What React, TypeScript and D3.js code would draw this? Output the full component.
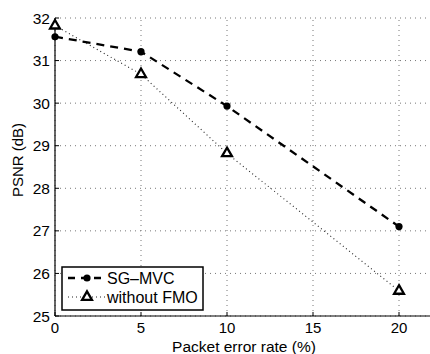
import React, { useEffect, useRef } from 'react';
import * as d3 from 'd3';

const errorRates = [0, 5, 10, 20];
const sgMvc = [31.56, 31.21, 29.93, 27.1];
const withoutFmo = [31.82, 30.68, 28.82, 25.59];
const xTicks = [0, 5, 10, 15, 20];
const yTicks = [25, 26, 27, 28, 29, 30, 31, 32];

const App = () => {
  const ref = useRef<SVGSVGElement>(null);

  useEffect(() => {
    const width = 430;
    const height = 354;
    const svg = d3.select(ref.current).attr('width', width).attr('height', height);
    svg.selectAll('*').remove();

    const font = 'Liberation Sans, Arial, Helvetica, sans-serif';
    const left = 55;
    const x = d3.scaleLinear().domain([0, 20]).range([left, 399]);
    const y = d3.scaleLinear().domain([25, 32]).range([316, 18]);

    // grid
    const grid = svg.append('g');
    xTicks.forEach(t => {
      grid.append('line')
        .attr('x1', x(t)).attr('x2', x(t))
        .attr('y1', y(25)).attr('y2', y(32))
        .attr('stroke', '#777').attr('stroke-width', 1)
        .attr('stroke-dasharray', '1,4');
    });
    yTicks.forEach(t => {
      grid.append('line')
        .attr('x1', left).attr('x2', width)
        .attr('y1', y(t)).attr('y2', y(t))
        .attr('stroke', '#777').attr('stroke-width', 1)
        .attr('stroke-dasharray', '1,4');
    });

    // axes
    svg.append('line')
      .attr('x1', left).attr('x2', width)
      .attr('y1', y(25)).attr('y2', y(25))
      .attr('stroke', '#000').attr('stroke-width', 1.2);
    svg.append('line')
      .attr('x1', left).attr('x2', left)
      .attr('y1', y(25)).attr('y2', y(32))
      .attr('stroke', '#000').attr('stroke-width', 1.2);

    xTicks.forEach(t => {
      svg.append('line')
        .attr('x1', x(t)).attr('x2', x(t))
        .attr('y1', y(25)).attr('y2', y(25) - 4)
        .attr('stroke', '#000');
      svg.append('text')
        .attr('x', x(t)).attr('y', 333)
        .attr('text-anchor', 'middle')
        .attr('font-family', font).attr('font-size', 15)
        .text(t);
    });
    yTicks.forEach(t => {
      svg.append('line')
        .attr('x1', left).attr('x2', left + 4)
        .attr('y1', y(t)).attr('y2', y(t))
        .attr('stroke', '#000');
      svg.append('text')
        .attr('x', 50).attr('y', y(t) + 5.5)
        .attr('text-anchor', 'end')
        .attr('font-family', font).attr('font-size', 15.5)
        .text(t);
    });

    svg.append('text')
      .attr('x', 244).attr('y', 352)
      .attr('text-anchor', 'middle')
      .attr('font-family', font).attr('font-size', 15.5)
      .text('Packet error rate (%)');
    svg.append('text')
      .attr('transform', `translate(23,160) rotate(-90)`)
      .attr('text-anchor', 'middle')
      .attr('font-family', font).attr('font-size', 15)
      .text('PSNR (dB)');

    const line = d3.line<number>()
      .x((_, i) => x(errorRates[i]))
      .y(d => y(d));

    // without FMO (dotted, triangles)
    svg.append('path')
      .attr('d', line(withoutFmo))
      .attr('fill', 'none')
      .attr('stroke', '#222')
      .attr('stroke-width', 1.1)
      .attr('stroke-dasharray', '1,3');

    // SG-MVC (dashed, dots)
    svg.append('path')
      .attr('d', line(sgMvc))
      .attr('fill', 'none')
      .attr('stroke', '#000')
      .attr('stroke-width', 2.3)
      .attr('stroke-dasharray', '8,6');

    const tri = d3.symbol().type(d3.symbolTriangle).size(42);
    withoutFmo.forEach((v, i) => {
      svg.append('path')
        .attr('d', tri())
        .attr('transform', `translate(${x(errorRates[i])},${y(v)})`)
        .attr('fill', 'white')
        .attr('stroke', '#000')
        .attr('stroke-width', 2.3);
    });
    sgMvc.forEach((v, i) => {
      svg.append('circle')
        .attr('cx', x(errorRates[i])).attr('cy', y(v))
        .attr('r', 3.6)
        .attr('fill', '#000');
    });

    // legend
    const legend = svg.append('g');
    legend.append('rect')
      .attr('x', 62).attr('y', 267)
      .attr('width', 141).attr('height', 43)
      .attr('fill', 'white')
      .attr('stroke', '#000').attr('stroke-width', 1.5);

    legend.append('line')
      .attr('x1', 68).attr('x2', 105)
      .attr('y1', 278).attr('y2', 278)
      .attr('stroke', '#000').attr('stroke-width', 2.3)
      .attr('stroke-dasharray', '7,6');
    legend.append('circle')
      .attr('cx', 87).attr('cy', 278).attr('r', 3.6).attr('fill', '#000');
    legend.append('text')
      .attr('x', 107).attr('y', 284)
      .attr('font-family', font).attr('font-size', 16)
      .text('SG\u2013MVC');

    legend.append('line')
      .attr('x1', 68).attr('x2', 105)
      .attr('y1', 297).attr('y2', 297)
      .attr('stroke', '#222').attr('stroke-width', 1.1)
      .attr('stroke-dasharray', '1,3');
    legend.append('path')
      .attr('d', tri())
      .attr('transform', 'translate(87,297)')
      .attr('fill', 'white')
      .attr('stroke', '#000').attr('stroke-width', 2.3);
    legend.append('text')
      .attr('x', 107).attr('y', 303)
      .attr('font-family', font).attr('font-size', 16)
      .text('without FMO');
  }, []);

  return <svg ref={ref} style={{ position: 'absolute', left: 0, top: 0 }} />;
};

export default App;
